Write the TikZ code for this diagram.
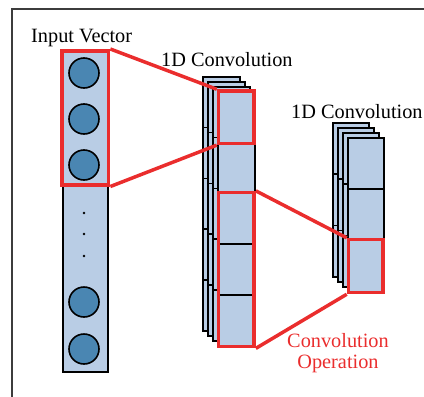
\documentclass[tikz,border=0pt]{standalone}
\usepackage{fontspec}
\setmainfont{Liberation Serif}
\usepackage{xcolor}
\definecolor{CellBlue}{RGB}{185,205,229}
\definecolor{DotBlue}{RGB}{74,134,178}
\definecolor{ConvRed}{RGB}{234,45,45}
\definecolor{FrameGray}{RGB}{60,60,60}
\usetikzlibrary{positioning,fit}

\begin{document}
\begin{tikzpicture}[x=1pt, y=-1pt,
    cell/.style={rectangle, draw=black, fill=CellBlue, line width=1.6pt, inner sep=0pt},
    unit/.style={circle, draw=black, fill=DotBlue, line width=1.6pt, minimum size=30pt, inner sep=0pt},
    dotmark/.style={circle, fill=black, minimum size=2.6pt, inner sep=0pt},
    redbox/.style={rectangle, draw=ConvRed, line width=3.5pt, inner ysep=0pt, inner xsep=-1.5pt},
    redlink/.style={draw=ConvRed, line width=3.5pt},
    lbl/.style={font=\fontsize{20.3}{21}\selectfont, inner sep=0pt}
]
    \clip (0,0) rectangle (424,397);
    \draw[FrameGray, line width=1.3pt] (12,420) |- (440,9);

    % input vector
    \node[cell, anchor=north west, minimum width=45pt, minimum height=322pt] (vec) at (62,49) {};
    \foreach \cy [count=\i] in {73,119,165,302,349}
        \node[unit] (u\i) at (84,\cy) {};
    \foreach \dy [count=\i] in {213,234,256}
        \node[dotmark] (d\i) at (84,\dy) {};
    \node[redbox, inner xsep=0pt, fit=(vec.north west)(vec.north east), anchor=north,
          minimum height=134pt] (inbox) at (vec.north) {};

    % first convolution stack
    \foreach \k in {0,...,3}
        \foreach \c in {1,...,5}
            \node[cell, anchor=north west, minimum width=37pt, minimum height=50.8pt]
                (a\k-\c) at ({202+5*\k},{76+5*\k+50.8*(\c-1)}) {};

    % second convolution stack
    \foreach \k in {0,...,3}
        \foreach \c in {1,2,3}
            \node[cell, anchor=north west, minimum width=36pt, minimum height=51.3pt]
                (b\k-\c) at ({332+5*\k},{122+5*\k+51.3*(\c-1)}) {};

    % receptive fields
    \node[redbox, fit=(a3-1)] (opA) {};
    \node[redbox, fit=(a3-3)(a3-5)] (opB) {};
    \node[redbox, fit=(b3-3)] (opC) {};
    \draw[redlink] (inbox.north east) -- (opA.north west);
    \draw[redlink] (inbox.south east) -- (opA.south west);
    \draw[redlink] (opB.north east) -- (opC.north west);
    \draw[redlink] (opB.south east) -- (opC.south west);

    \node[lbl, anchor=base west] (inlbl) at (31,42) {Input Vector};
    \node[lbl, anchor=base west] (convlblA) at (161,66) {1D Convolution};
    \node[lbl, anchor=base west] (convlblB) at (291,118) {1D Convolution};
    \node[lbl, text=ConvRed, align=center, anchor=base] (oplbl) at (338,368) {Convolution\\Operation};
\end{tikzpicture}
\end{document}
